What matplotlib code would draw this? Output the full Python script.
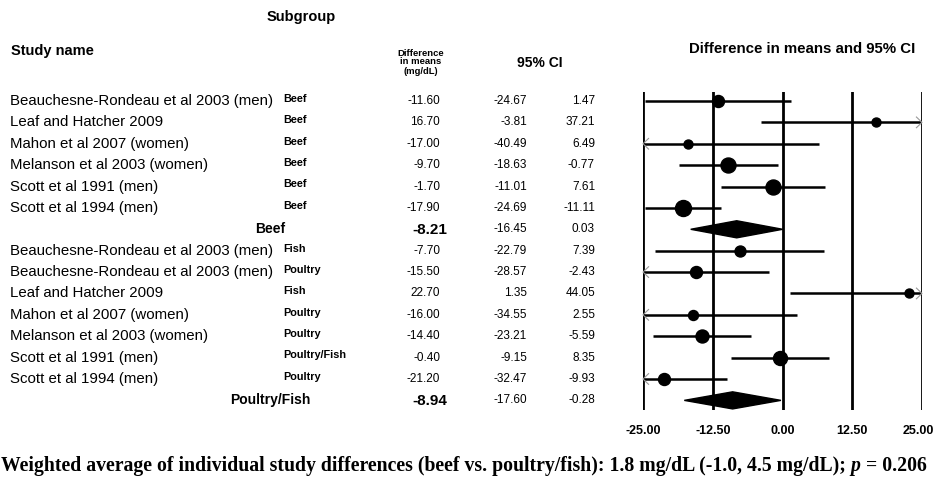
import matplotlib
matplotlib.use("Agg")
import matplotlib.pyplot as plt
import matplotlib.transforms as mtransforms
from matplotlib.patches import Polygon

studies = ["Beauchesne-Rondeau et al 2003 (men)", "Leaf and Hatcher 2009",
           "Mahon et al 2007 (women)", "Melanson et al 2003 (women)",
           "Scott et al 1991 (men)", "Scott et al 1994 (men)", None,
           "Beauchesne-Rondeau et al 2003 (men)", "Beauchesne-Rondeau et al 2003 (men)",
           "Leaf and Hatcher 2009", "Mahon et al 2007 (women)",
           "Melanson et al 2003 (women)", "Scott et al 1991 (men)",
           "Scott et al 1994 (men)", None]
subgroups = ["Beef", "Beef", "Beef", "Beef", "Beef", "Beef", "Beef",
             "Fish", "Poultry", "Fish", "Poultry", "Poultry", "Poultry/Fish",
             "Poultry", "Poultry/Fish"]
diff = [-11.60, 16.70, -17.00, -9.70, -1.70, -17.90, -8.21,
        -7.70, -15.50, 22.70, -16.00, -14.40, -0.40, -21.20, -8.94]
lower = [-24.67, -3.81, -40.49, -18.63, -11.01, -24.69, -16.45,
         -22.79, -28.57, 1.35, -34.55, -23.21, -9.15, -32.47, -17.60]
upper = [1.47, 37.21, 6.49, -0.77, 7.61, -11.11, 0.03,
         7.39, -2.43, 44.05, 2.55, -5.59, 8.35, -9.93, -0.28]
# relative weight (marker diameter in px)
marker_px = [12, 9, 9, 15, 15, 16, None, 11, 12, 9, 10, 13, 14, 12, None]
xticks = [-25.0, -12.5, 0.0, 12.5, 25.0]

W, H = 935, 499
fig = plt.figure(figsize=(W / 100, H / 100), dpi=100)
sans = "Liberation Sans"

ax = fig.add_axes([643 / W, 1 - 410 / H, 279 / W, 318 / H])
n = len(diff)
ax.set_xlim(-25, 25)
ax.set_ylim(n - 1 + 0.45, -0.42)
for s in ax.spines.values():
    s.set_visible(False)
ax.set_yticks([])
ax.set_xticks([])
for t in xticks:
    ax.axvline(t, color="black", lw=2.0, zorder=1)

# tick labels
xtr = ax.get_xaxis_transform()
for k, t in enumerate(xticks):
    if k == len(xticks) - 1:
        off = mtransforms.ScaledTranslation(12 / 100, 0, fig.dpi_scale_trans)
        ax.text(t, -21 / 318, f"{t:.2f}", transform=xtr + off, fontsize=9, fontweight="bold",
                family=sans, ha="right", va="center", clip_on=False)
    else:
        ax.text(t, -21 / 318, f"{t:.2f}", transform=xtr, fontsize=9, fontweight="bold",
                family=sans, ha="center", va="center", clip_on=False)

for i in range(n):
    if studies[i] is None:
        d, lo, hi = diff[i], lower[i], upper[i]
        poly = Polygon([[lo, i], [d, i - 0.4], [hi, i], [d, i + 0.4]], closed=True,
                       facecolor="black", edgecolor="black", zorder=3)
        ax.add_patch(poly)
        continue
    lo = max(lower[i], -25)
    hi = min(upper[i], 25)
    ax.plot([lo, hi], [i, i], color="black", lw=1.8, zorder=2, solid_capstyle="butt")
    sz = (marker_px[i] * 0.72) ** 2
    ax.scatter([diff[i]], [i], s=sz, color="black", zorder=3)
    if lower[i] < -25:
        ax.plot([-24.0, -25, -24.0], [i - 0.25, i, i + 0.25], color="#999999", lw=0.8, zorder=2,
                clip_on=False)
    if upper[i] > 25:
        ax.plot([24.0, 25, 24.0], [i - 0.25, i, i + 0.25], color="#999999", lw=0.8, zorder=2,
                clip_on=False)

tr = mtransforms.blended_transform_factory(fig.transFigure, ax.transData)
def fx(px):
    return px / W

for i in range(n):
    if studies[i] is not None:
        fig.text(fx(10), i, studies[i], transform=tr, fontsize=10.8, family=sans,
                 ha="left", va="center")
        fig.text(fx(283), i - 0.1, subgroups[i], transform=tr, fontsize=7.8, family=sans,
                 fontweight="bold", ha="left", va="center")
        fig.text(fx(440), i, f"{diff[i]:.2f}", transform=tr, fontsize=8.5, family=sans,
                 ha="right", va="center")
    else:
        fig.text(fx(270), i, subgroups[i], transform=tr, fontsize=10, family=sans,
                 fontweight="bold", ha="center", va="center")
        fig.text(fx(447), i + 0.05, f"{diff[i]:.2f}", transform=tr, fontsize=11, family=sans,
                 fontweight="bold", ha="right", va="center")
    fig.text(fx(527), i, f"{lower[i]:.2f}", transform=tr, fontsize=8.5, family=sans,
             ha="right", va="center")
    fig.text(fx(595), i, f"{upper[i]:.2f}", transform=tr, fontsize=8.5, family=sans,
             ha="right", va="center")

# headers
fig.text(fx(301), 1 - 17 / H, "Subgroup", fontsize=10.5, fontweight="bold", family=sans,
         ha="center", va="center")
fig.text(fx(11), 1 - 51 / H, "Study name", fontsize=10.5, fontweight="bold", family=sans,
         ha="left", va="center")
fig.text(fx(421), 1 - 62 / H, "Difference\nin means\n(mg/dL)", fontsize=6.8, fontweight="bold",
         family=sans, ha="center", va="center", linespacing=1.0)
fig.text(fx(540), 1 - 63 / H, "95% CI", fontsize=10, fontweight="bold", family=sans,
         ha="center", va="center")
fig.text(fx(802), 1 - 49 / H, "Difference in means and 95% CI", fontsize=10.8,
         fontweight="bold", family=sans, ha="center", va="center")

# footnote
serif = "Liberation Serif"
fsz = 14.2
y0 = 1 - 466 / H
renderer = fig.canvas.get_renderer()
parts = [("Weighted average of individual study differences (beef vs. poultry/fish): "
          "1.8 mg/dL (-1.0, 4.5 mg/dL); ", "normal"), ("p", "italic"), (" = 0.206", "normal")]
xpos = 1
for txt, style in parts:
    t = fig.text(fx(xpos), y0, txt, fontsize=fsz, family=serif, fontweight="bold",
                 style=style, ha="left", va="center")
    bb = t.get_window_extent(renderer=renderer)
    xpos += bb.width

fig.savefig("out.png", dpi=100)
